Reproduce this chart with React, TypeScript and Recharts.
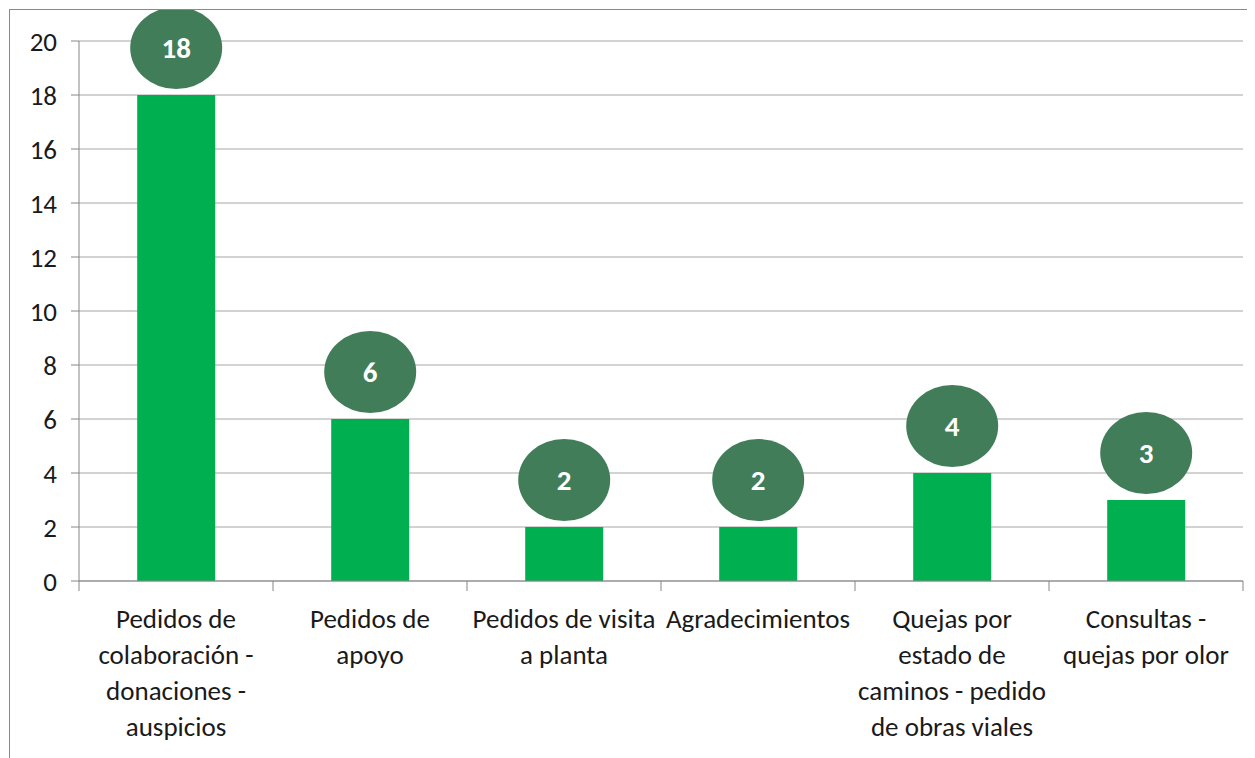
import { BarChart, Bar, XAxis, YAxis, CartesianGrid, LabelList } from "recharts";

const categories = [
  "Pedidos de\ncolaboración -\ndonaciones -\nauspicios",
  "Pedidos de\napoyo",
  "Pedidos de visita\na planta",
  "Agradecimientos",
  "Quejas por\nestado de\ncaminos - pedido\nde obras viales",
  "Consultas -\nquejas por olor",
];
const counts = [18, 6, 2, 2, 4, 3];
const yTicks = [0, 2, 4, 6, 8, 10, 12, 14, 16, 18, 20];

const data = categories.map((name, i) => ({ name, value: counts[i] }));

const FONT = "Calibri, Carlito, 'Open Sans', sans-serif";
const AXIS_GREY = "#868686";

const CategoryTick = ({ x, y, payload, index }: any) => {
  const half = payload?.offset ?? 97;
  const top = y - 10;
  const lines = String(payload.value).split("\n");
  return (
    <g>
      <line x1={x - half} x2={x - half} y1={top} y2={top + 10} stroke={AXIS_GREY} />
      {index === categories.length - 1 && (
        <line x1={x + half} x2={x + half} y1={top} y2={top + 10} stroke={AXIS_GREY} />
      )}
      <text textAnchor="middle" fill="#1a1a1a" fontSize={27} fontFamily={FONT}>
        {lines.map((l, i) => (
          <tspan key={i} x={x} y={top + 47 + i * 36}>
            {l}
          </tspan>
        ))}
      </text>
    </g>
  );
};

const Bubble = ({ x, y, width, value }: any) => {
  const cx = x + width / 2;
  const cy = y - 47;
  return (
    <g>
      <ellipse cx={cx} cy={cy} rx={46} ry={41} fill="#427D5A" />
      <text
        x={cx}
        y={cy}
        dy="0.35em"
        textAnchor="middle"
        fill="#ffffff"
        fontWeight="bold"
        fontSize={29}
        fontFamily={FONT}
      >
        {value}
      </text>
    </g>
  );
};

export default function App() {
  return (
    <div
      style={{
        margin: 1,
        border: "1px solid #898989",
        width: 1260,
        height: 760,
        background: "#fff",
      }}
    >
      <BarChart
        width={1245}
        height={748}
        data={data}
        margin={{ top: 31, right: 12, left: 0, bottom: 0 }}
        barCategoryGap="30%"
      >
        <CartesianGrid vertical={false} stroke="#A6A6A6" />
        <XAxis
          dataKey="name"
          interval={0}
          height={177}
          stroke={AXIS_GREY}
          tickLine={false}
          tickSize={10}
          tickMargin={0}
          tick={<CategoryTick />}
        />
        <YAxis
          domain={[0, 20]}
          ticks={yTicks}
          width={69}
          stroke={AXIS_GREY}
          tickSize={8}
          tickMargin={14}
          tick={{ fill: "#1a1a1a", fontSize: 27, fontFamily: FONT }}
        />
        <Bar dataKey="value" fill="#00B050" isAnimationActive={false}>
          <LabelList dataKey="value" content={<Bubble />} />
        </Bar>
      </BarChart>
    </div>
  );
}
